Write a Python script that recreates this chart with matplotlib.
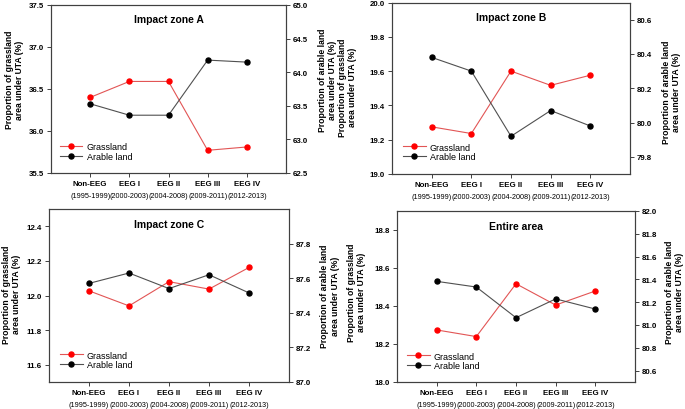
import numpy as np
import matplotlib.pyplot as plt

# periods on the x axis
periods = ['Non-EEG', 'EEG I', 'EEG II', 'EEG III', 'EEG IV']
years = ['(1995-1999)', '(2000-2003)', '(2004-2008)', '(2009-2011)', '(2012-2013)']

# share of grassland (left axis) and arable land (right axis) in % of UTA
grass_a = [36.40, 36.59, 36.59, 35.77, 35.81]
arable_a = [63.53, 63.36, 63.36, 64.18, 64.15]
grass_b = [19.275, 19.236, 19.60, 19.517, 19.576]
arable_b = [80.38, 80.30, 79.92, 80.07, 79.98]
grass_c = [12.027, 11.940, 12.080, 12.037, 12.162]
arable_c = [87.57, 87.63, 87.54, 87.62, 87.515]
grass_d = [18.274, 18.239, 18.517, 18.405, 18.479]
arable_d = [81.383, 81.333, 81.064, 81.229, 81.14]

plt.rcParams['font.family'] = ['Liberation Sans', 'DejaVu Sans']

W, H = 685, 410
fig = plt.figure(figsize=(W / 100, H / 100), dpi=100)

SPINE = '#404040'
px = 0.72  # points per pixel at dpi 100


def rect(left, right, top, bottom):
    return [left / W, (H - bottom) / H, (right - left) / W, (bottom - top) / H]


def panel(box, title, grass, arable, ylim, yticks, y2lim, y2ticks,
          ylab_pos, y2lab_pos, leg_pos, title_y):
    ax = fig.add_axes(box)
    ax2 = ax.twinx()
    x = np.arange(len(periods))

    l1, = ax.plot(x, grass, color='#e25555', lw=0.8, marker='o', ms=3.6,
                  mfc='red', mec='red', label='Grassland')
    l2, = ax2.plot(x, arable, color='#505050', lw=0.8, marker='o', ms=3.6,
                   mfc='black', mec='black', label='Arable land')

    ax.set_xlim(-1, 5)
    ax.set_ylim(*ylim)
    ax.set_yticks(yticks)
    ax2.set_ylim(*y2lim)
    ax2.set_yticks(y2ticks)
    ax.yaxis.set_major_formatter('{x:.1f}')
    ax2.yaxis.set_major_formatter('{x:.1f}')

    ax.set_xticks(x)
    ax.set_xticklabels([])
    for a in (ax, ax2):
        for s in a.spines.values():
            s.set_color(SPINE)
            s.set_linewidth(0.8)
        a.tick_params(direction='out', length=3, width=0.7, color=SPINE,
                      pad=2, labelsize=5.7)
    for lab in ax.get_yticklabels() + ax2.get_yticklabels():
        lab.set_fontweight('bold')

    # two line category labels: bold period name, years below
    for i in x:
        ax.annotate(periods[i], xy=(i, 0), xycoords=('data', 'axes fraction'),
                    xytext=(0, -10.5 * px), textcoords='offset points',
                    ha='center', va='center', fontsize=5.7, fontweight='bold')
        ax.annotate(years[i], xy=(i, 0), xycoords=('data', 'axes fraction'),
                    xytext=(0, -22.5 * px), textcoords='offset points',
                    ha='center', va='center', fontsize=5.2)

    ax.set_ylabel('Proportion of grassland\narea under UTA (%)',
                  fontsize=6.2, fontweight='bold')
    ax.yaxis.set_label_coords(*ylab_pos)
    ax2.set_ylabel('Proportion of arable land\narea under UTA (%)',
                   fontsize=6.2, fontweight='bold')
    ax2.yaxis.set_label_coords(*y2lab_pos)

    ax.text(0.5, title_y, title, transform=ax.transAxes, ha='center',
            va='center', fontsize=7.5, fontweight='bold')

    ax2.legend([l1, l2], ['Grassland', 'Arable land'], loc='center left',
               bbox_to_anchor=leg_pos, frameon=False, fontsize=6.5,
               borderpad=0, borderaxespad=0, handlelength=2.5,
               handletextpad=0.45, labelspacing=0.1)


panel(rect(51, 286, 6, 174), 'Impact zone A', grass_a, arable_a,
      (35.5, 37.5), np.arange(35.5, 37.51, 0.5),
      (62.5, 65.0), np.arange(62.5, 65.01, 0.5),
      (-0.115, 0.56), (1.136, 0.56), (0.038, 0.128), 0.917)

panel(rect(392, 630, 3.5, 175), 'Impact zone B', grass_b, arable_b,
      (19.0, 20.0), np.arange(19.0, 20.01, 0.2),
      (79.7, 80.7), np.arange(79.8, 80.61, 0.2),
      (-0.145, 0.51), (1.134, 0.48), (0.046, 0.128), 0.918)

panel(rect(49, 289, 210, 383), 'Impact zone C', grass_c, arable_c,
      (11.5, 12.5), np.arange(11.6, 12.41, 0.2),
      (87.0, 88.0), np.arange(87.0, 87.81, 0.2),
      (-0.115, 0.51), (1.13, 0.50), (0.046, 0.127), 0.913)

panel(rect(397, 635, 212, 383), 'Entire area', grass_d, arable_d,
      (18.0, 18.9), np.arange(18.0, 18.81, 0.2),
      (80.5, 82.0), np.arange(80.6, 82.01, 0.2),
      (-0.13, 0.53), (1.126, 0.53), (0.042, 0.123), 0.912)

plt.savefig('out.png', dpi=100)
